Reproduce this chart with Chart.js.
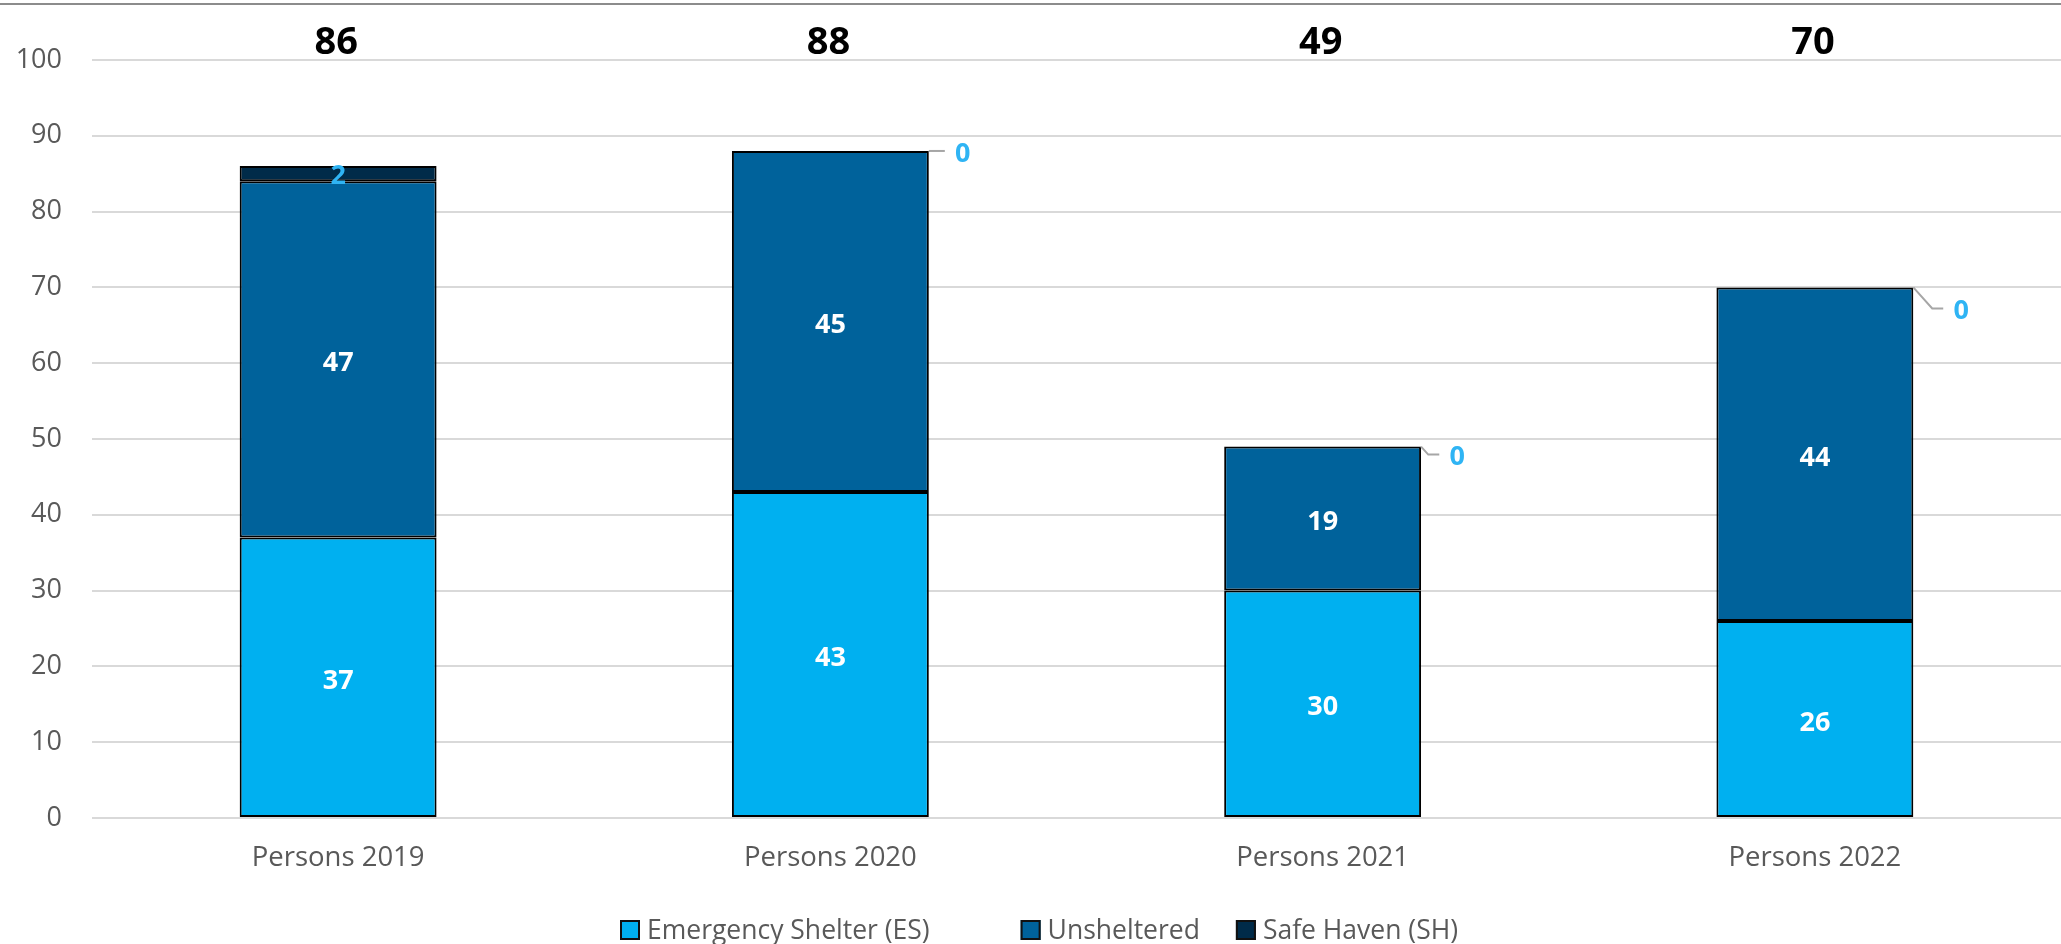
<!DOCTYPE html>
<html>
<head>
<meta charset="utf-8">
<script src="https://cdn.jsdelivr.net/npm/chart.js@4.4.1/dist/chart.umd.min.js"></script>
<style>
  html, body { margin: 0; padding: 0; background: #fff; }
</style>
</head>
<body>
<canvas id="chart" width="2061" height="944"></canvas>
<script>
// data
var categories = ['Persons 2019', 'Persons 2020', 'Persons 2021', 'Persons 2022'];
var seriesNames = ['Emergency Shelter (ES)', 'Unsheltered', 'Safe Haven (SH)'];
var emergencyShelter = [37, 43, 30, 26];
var unsheltered = [47, 45, 19, 44];
var safeHaven = [2, 0, 0, 0];
var yMin = 0, yMax = 100, yStep = 10;

var colors = ['#00B0F0', '#00629B', '#002B49'];
var FONT = '"Open Sans", "DejaVu Sans", sans-serif';
// how far the leader line drops for the zero labels (style only)
var leaderDrop = [0, 0, 8, 21];
// space after each legend entry
var legendGaps = [91, 36];

var frame = {
    id: 'frame',
    beforeDraw: function (chart) {
        var ctx = chart.ctx;
        ctx.save();
        ctx.fillStyle = '#fff';
        ctx.fillRect(0, 0, chart.width, chart.height);
        ctx.strokeStyle = '#8C8C8C';
        ctx.lineWidth = 2;
        ctx.beginPath();
        ctx.moveTo(0, 4);
        ctx.lineTo(chart.width, 4);
        ctx.stroke();
        ctx.restore();
    }
};

var barLabels = {
    id: 'barLabels',
    afterDatasetsDraw: function (chart) {
        var ctx = chart.ctx;
        ctx.save();
        ctx.textAlign = 'center';
        ctx.textBaseline = 'middle';

        // white labels inside ES and unsheltered
        ctx.font = 'bold 27px ' + FONT;
        ctx.fillStyle = '#fff';
        [0, 1].forEach(function (di) {
            chart.getDatasetMeta(di).data.forEach(function (bar, i) {
                ctx.fillText(chart.data.datasets[di].data[i], bar.x, (bar.y + bar.base) / 2 + 4);
            });
        });

        // safe haven labels, light blue, with leader line when zero
        ctx.font = 'bold 27px ' + FONT;
        ctx.fillStyle = '#2FB4F4';
        chart.getDatasetMeta(2).data.forEach(function (bar, i) {
            var v = safeHaven[i];
            if (v > 0) {
                ctx.fillText(v, bar.x, (bar.y + bar.base) / 2 + 3);
                return;
            }
            var x0 = bar.x + bar.width / 2, y0 = bar.y;
            var d = leaderDrop[i];
            var ex = x0 + d * 0.9, ey = y0 + d;
            var tx = ex + (d ? 11 : 16);
            ctx.strokeStyle = '#A6A6A6';
            ctx.lineWidth = 2;
            ctx.beginPath();
            ctx.moveTo(x0, y0);
            ctx.lineTo(ex, ey);
            ctx.lineTo(tx, ey);
            ctx.stroke();
            ctx.fillText(v, tx + 18, ey + 3);
        });

        // totals above the plot
        ctx.font = 'bold 38px ' + FONT;
        ctx.fillStyle = '#000';
        var base = chart.getDatasetMeta(0).data;
        categories.forEach(function (c, i) {
            var total = emergencyShelter[i] + unsheltered[i] + safeHaven[i];
            ctx.fillText(total, base[i].x - 2, chart.chartArea.top - 17);
        });
        ctx.restore();
    }
};

var bottomLegend = {
    id: 'bottomLegend',
    afterDraw: function (chart) {
        var ctx = chart.ctx;
        var box = 20, gapText = 7, y = 930;
        ctx.save();
        ctx.font = '26.5px ' + FONT;
        ctx.textBaseline = 'middle';
        ctx.textAlign = 'left';
        var x = 620;
        chart.data.datasets.forEach(function (d, i) {
            ctx.fillStyle = d.backgroundColor;
            ctx.fillRect(x, y - box / 2, box, box);
            ctx.strokeStyle = '#111';
            ctx.lineWidth = 2;
            ctx.strokeRect(x + 1, y - box / 2 + 1, box - 2, box - 2);
            ctx.fillStyle = '#595959';
            ctx.fillText(d.label, x + box + gapText, y + 1);
            x += box + gapText + ctx.measureText(d.label).width + (legendGaps[i] || 0);
        });
        ctx.restore();
    }
};

function makeSet(name, values, color) {
    return {
        label: name,
        data: values,
        backgroundColor: color,
        borderColor: '#000',
        borderWidth: 2,
        borderSkipped: false,
        categoryPercentage: 1,
        barPercentage: 0.4
    };
}

new Chart(document.getElementById('chart'), {
    type: 'bar',
    data: {
        labels: categories,
        datasets: [
            makeSet(seriesNames[0], emergencyShelter, colors[0]),
            makeSet(seriesNames[1], unsheltered, colors[1]),
            makeSet(seriesNames[2], safeHaven, colors[2])
        ]
    },
    options: {
        responsive: false,
        animation: false,
        devicePixelRatio: 1,
        layout: { padding: { top: 60, bottom: 66, left: 0, right: 0 } },
        plugins: {
            legend: { display: false },
            tooltip: { enabled: false }
        },
        scales: {
            x: {
                stacked: true,
                grid: { display: false, drawTicks: false },
                border: { display: false },
                ticks: { color: '#595959', font: { family: FONT, size: 27.5 }, padding: 24 },
                afterFit: function (s) { s.height = 60; }
            },
            y: {
                stacked: true,
                min: yMin,
                max: yMax,
                ticks: { stepSize: yStep, color: '#595959', font: { family: FONT, size: 27 }, padding: 30 },
                grid: { color: '#D9D9D9', lineWidth: 2, drawTicks: false },
                border: { display: false },
                afterFit: function (s) { s.width = 92; }
            }
        }
    },
    plugins: [frame, barLabels, bottomLegend]
});
</script>
</body>
</html>
